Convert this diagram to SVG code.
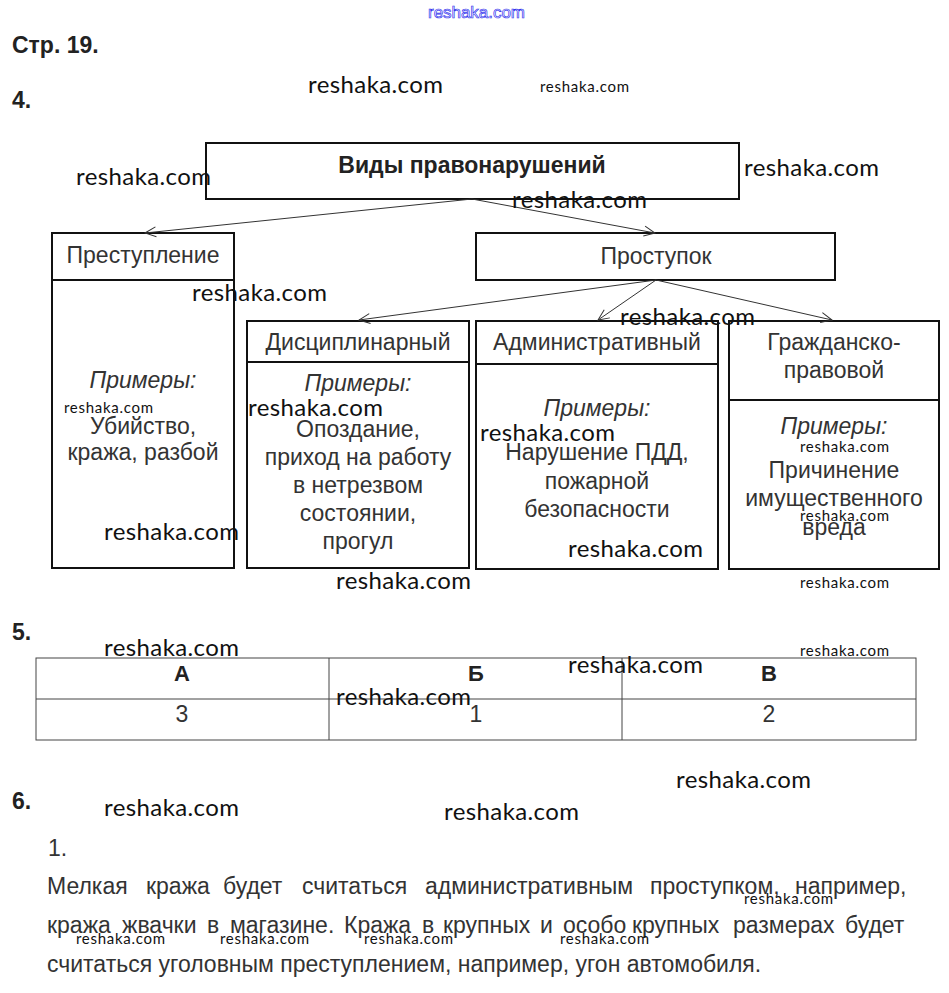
<svg xmlns="http://www.w3.org/2000/svg" width="949" height="993" viewBox="0 0 949 993">
<defs>
<marker id="arr" markerWidth="14" markerHeight="12" refX="12" refY="6" orient="auto" markerUnits="userSpaceOnUse">
<path d="M1,1 L12,6 L1,11" fill="none" stroke="#333" stroke-width="1"/>
</marker>
</defs>
<style>
.box{fill:#fff;stroke:#111;stroke-width:2}
.div{stroke:#111;stroke-width:2}
.t{font-family:"Liberation Sans",Arial,sans-serif;font-size:23px;fill:#333;text-anchor:middle}
.i{font-style:italic}
.h{font-family:"Liberation Sans",Arial,sans-serif;font-weight:bold;fill:#222}
.conn line{stroke:#333;stroke-width:1;marker-end:url(#arr)}
.tbl{fill:none;stroke:#444;stroke-width:1}
.p{font-family:"Liberation Sans",Arial,sans-serif;font-size:23px;fill:#333}
.wm{font-family:Lato,"Open Sans",sans-serif;fill:#111}
.wl{font-size:24px}
.ws{font-size:15px}
</style>
<rect width="949" height="993" fill="#fff"/>

<text x="428" y="18" font-family="Liberation Sans,Arial,sans-serif" font-size="17" fill="#fff" stroke="#3333ee" stroke-width="0.7" textLength="97">reshaka.com</text>

<text class="h" x="12" y="53" font-size="23">Стр. 19.</text>
<text class="h" x="12" y="108" font-size="23">4.</text>

<g id="root">
<rect class="box" x="206" y="143" width="533" height="56"/>
<text class="h" x="472" y="173" font-size="23" text-anchor="middle">Виды правонарушений</text>
</g>
<g id="prestuplenie">
<rect class="box" x="52" y="233" width="182" height="335"/>
<line class="div" x1="52" y1="280" x2="234" y2="280"/>
<text class="t" x="143" y="263">Преступление</text>
<text class="t i" x="143" y="388">Примеры:</text>
<text class="t" x="143" y="434">Убийство,</text>
<text class="t" x="143" y="460">кража, разбой</text>
</g>
<g id="prostupok">
<rect class="box" x="476" y="233" width="359" height="47"/>
<text class="t" x="656" y="264">Проступок</text>
</g>
<g id="disc">
<rect class="box" x="247" y="321" width="222" height="247"/>
<line class="div" x1="247" y1="362" x2="469" y2="362"/>
<text class="t" x="358" y="350">Дисциплинарный</text>
<text class="t i" x="358" y="391">Примеры:</text>
<text class="t" x="358" y="437">Опоздание,</text>
<text class="t" x="358" y="465">приход на работу</text>
<text class="t" x="358" y="493">в нетрезвом</text>
<text class="t" x="358" y="521">состоянии,</text>
<text class="t" x="358" y="549">прогул</text>
</g>
<g id="admin">
<rect class="box" x="476" y="321" width="242" height="248"/>
<line class="div" x1="476" y1="364" x2="718" y2="364"/>
<text class="t" x="597" y="350">Административный</text>
<text class="t i" x="597" y="416">Примеры:</text>
<text class="t" x="597" y="460">Нарушение ПДД,</text>
<text class="t" x="597" y="489">пожарной</text>
<text class="t" x="597" y="517">безопасности</text>
</g>
<g id="civil">
<rect class="box" x="729" y="321" width="210" height="248"/>
<line class="div" x1="729" y1="400" x2="939" y2="400"/>
<text class="t" x="834" y="350">Гражданско-</text>
<text class="t" x="834" y="378">правовой</text>
<text class="t i" x="834" y="434">Примеры:</text>
<text class="t" x="834" y="478">Причинение</text>
<text class="t" x="834" y="506">имущественного</text>
<text class="t" x="834" y="535">вреда</text>
</g>

<g class="conn">
<line x1="472" y1="199" x2="145" y2="233"/>
<line x1="472" y1="199" x2="655" y2="233"/>
<line x1="656" y1="280" x2="359" y2="320"/>
<line x1="656" y1="280" x2="598" y2="320"/>
<line x1="656" y1="280" x2="832" y2="320"/>
</g>

<text class="h" x="12" y="640" font-size="23">5.</text>
<g id="table">
<rect class="tbl" x="36" y="658" width="880" height="82"/>
<line class="tbl" x1="36" y1="699" x2="916" y2="699"/>
<line class="tbl" x1="329" y1="658" x2="329" y2="740"/>
<line class="tbl" x1="622" y1="658" x2="622" y2="740"/>
<text class="h" x="182" y="681" font-size="22" text-anchor="middle">А</text>
<text class="h" x="476" y="681" font-size="22" text-anchor="middle">Б</text>
<text class="h" x="769" y="681" font-size="22" text-anchor="middle">В</text>
<text class="t" x="182" y="722" font-size="22">3</text>
<text class="t" x="476" y="722" font-size="22">1</text>
<text class="t" x="769" y="722" font-size="22">2</text>
</g>

<text class="h" x="12" y="809" font-size="23">6.</text>
<text class="p" x="48" y="856">1.</text>
<text class="p" y="894"><tspan x="47">Мелкая</tspan><tspan x="146">кража</tspan><tspan x="223">будет</tspan><tspan x="302">считаться</tspan><tspan x="425">административным</tspan><tspan x="650">проступком,</tspan><tspan x="795">например,</tspan></text>
<text class="p" y="933"><tspan x="47">кража</tspan><tspan x="122">жвачки</tspan><tspan x="207">в</tspan><tspan x="230">магазине.</tspan><tspan x="344">Кража</tspan><tspan x="422">в</tspan><tspan x="443">крупных</tspan><tspan x="540">и</tspan><tspan x="563">особо</tspan><tspan x="632">крупных</tspan><tspan x="733">размерах</tspan><tspan x="845">будет</tspan></text>
<text class="p" x="47" y="972">считаться уголовным преступлением, например, угон автомобиля.</text>

<g id="watermarks">
<text class="wm wl" x="308" y="93" textLength="135">reshaka.com</text>
<text class="wm ws" x="540" y="92" textLength="89">reshaka.com</text>
<text class="wm wl" x="76" y="185" textLength="135">reshaka.com</text>
<text class="wm wl" x="744" y="176" textLength="135">reshaka.com</text>
<text class="wm wl" x="512" y="208" textLength="135">reshaka.com</text>
<text class="wm wl" x="192" y="301" textLength="135">reshaka.com</text>
<text class="wm wl" x="620" y="325" textLength="135">reshaka.com</text>
<text class="wm ws" x="64" y="413" textLength="89">reshaka.com</text>
<text class="wm wl" x="248" y="416" textLength="135">reshaka.com</text>
<text class="wm wl" x="480" y="441" textLength="135">reshaka.com</text>
<text class="wm ws" x="800" y="452" textLength="89">reshaka.com</text>
<text class="wm ws" x="800" y="521" textLength="89">reshaka.com</text>
<text class="wm wl" x="104" y="540" textLength="135">reshaka.com</text>
<text class="wm wl" x="568" y="557" textLength="135">reshaka.com</text>
<text class="wm wl" x="336" y="589" textLength="135">reshaka.com</text>
<text class="wm ws" x="800" y="588" textLength="89">reshaka.com</text>
<text class="wm wl" x="104" y="656" textLength="135">reshaka.com</text>
<text class="wm ws" x="800" y="656" textLength="89">reshaka.com</text>
<text class="wm wl" x="568" y="673" textLength="135">reshaka.com</text>
<text class="wm wl" x="336" y="705" textLength="135">reshaka.com</text>
<text class="wm wl" x="676" y="788" textLength="135">reshaka.com</text>
<text class="wm wl" x="104" y="816" textLength="135">reshaka.com</text>
<text class="wm wl" x="444" y="820" textLength="135">reshaka.com</text>
<text class="wm ws" x="744" y="904" textLength="89">reshaka.com</text>
<text class="wm ws" x="76" y="944" textLength="89">reshaka.com</text>
<text class="wm ws" x="220" y="944" textLength="89">reshaka.com</text>
<text class="wm ws" x="364" y="944" textLength="89">reshaka.com</text>
<text class="wm ws" x="560" y="944" textLength="89">reshaka.com</text>
</g>
</svg>
